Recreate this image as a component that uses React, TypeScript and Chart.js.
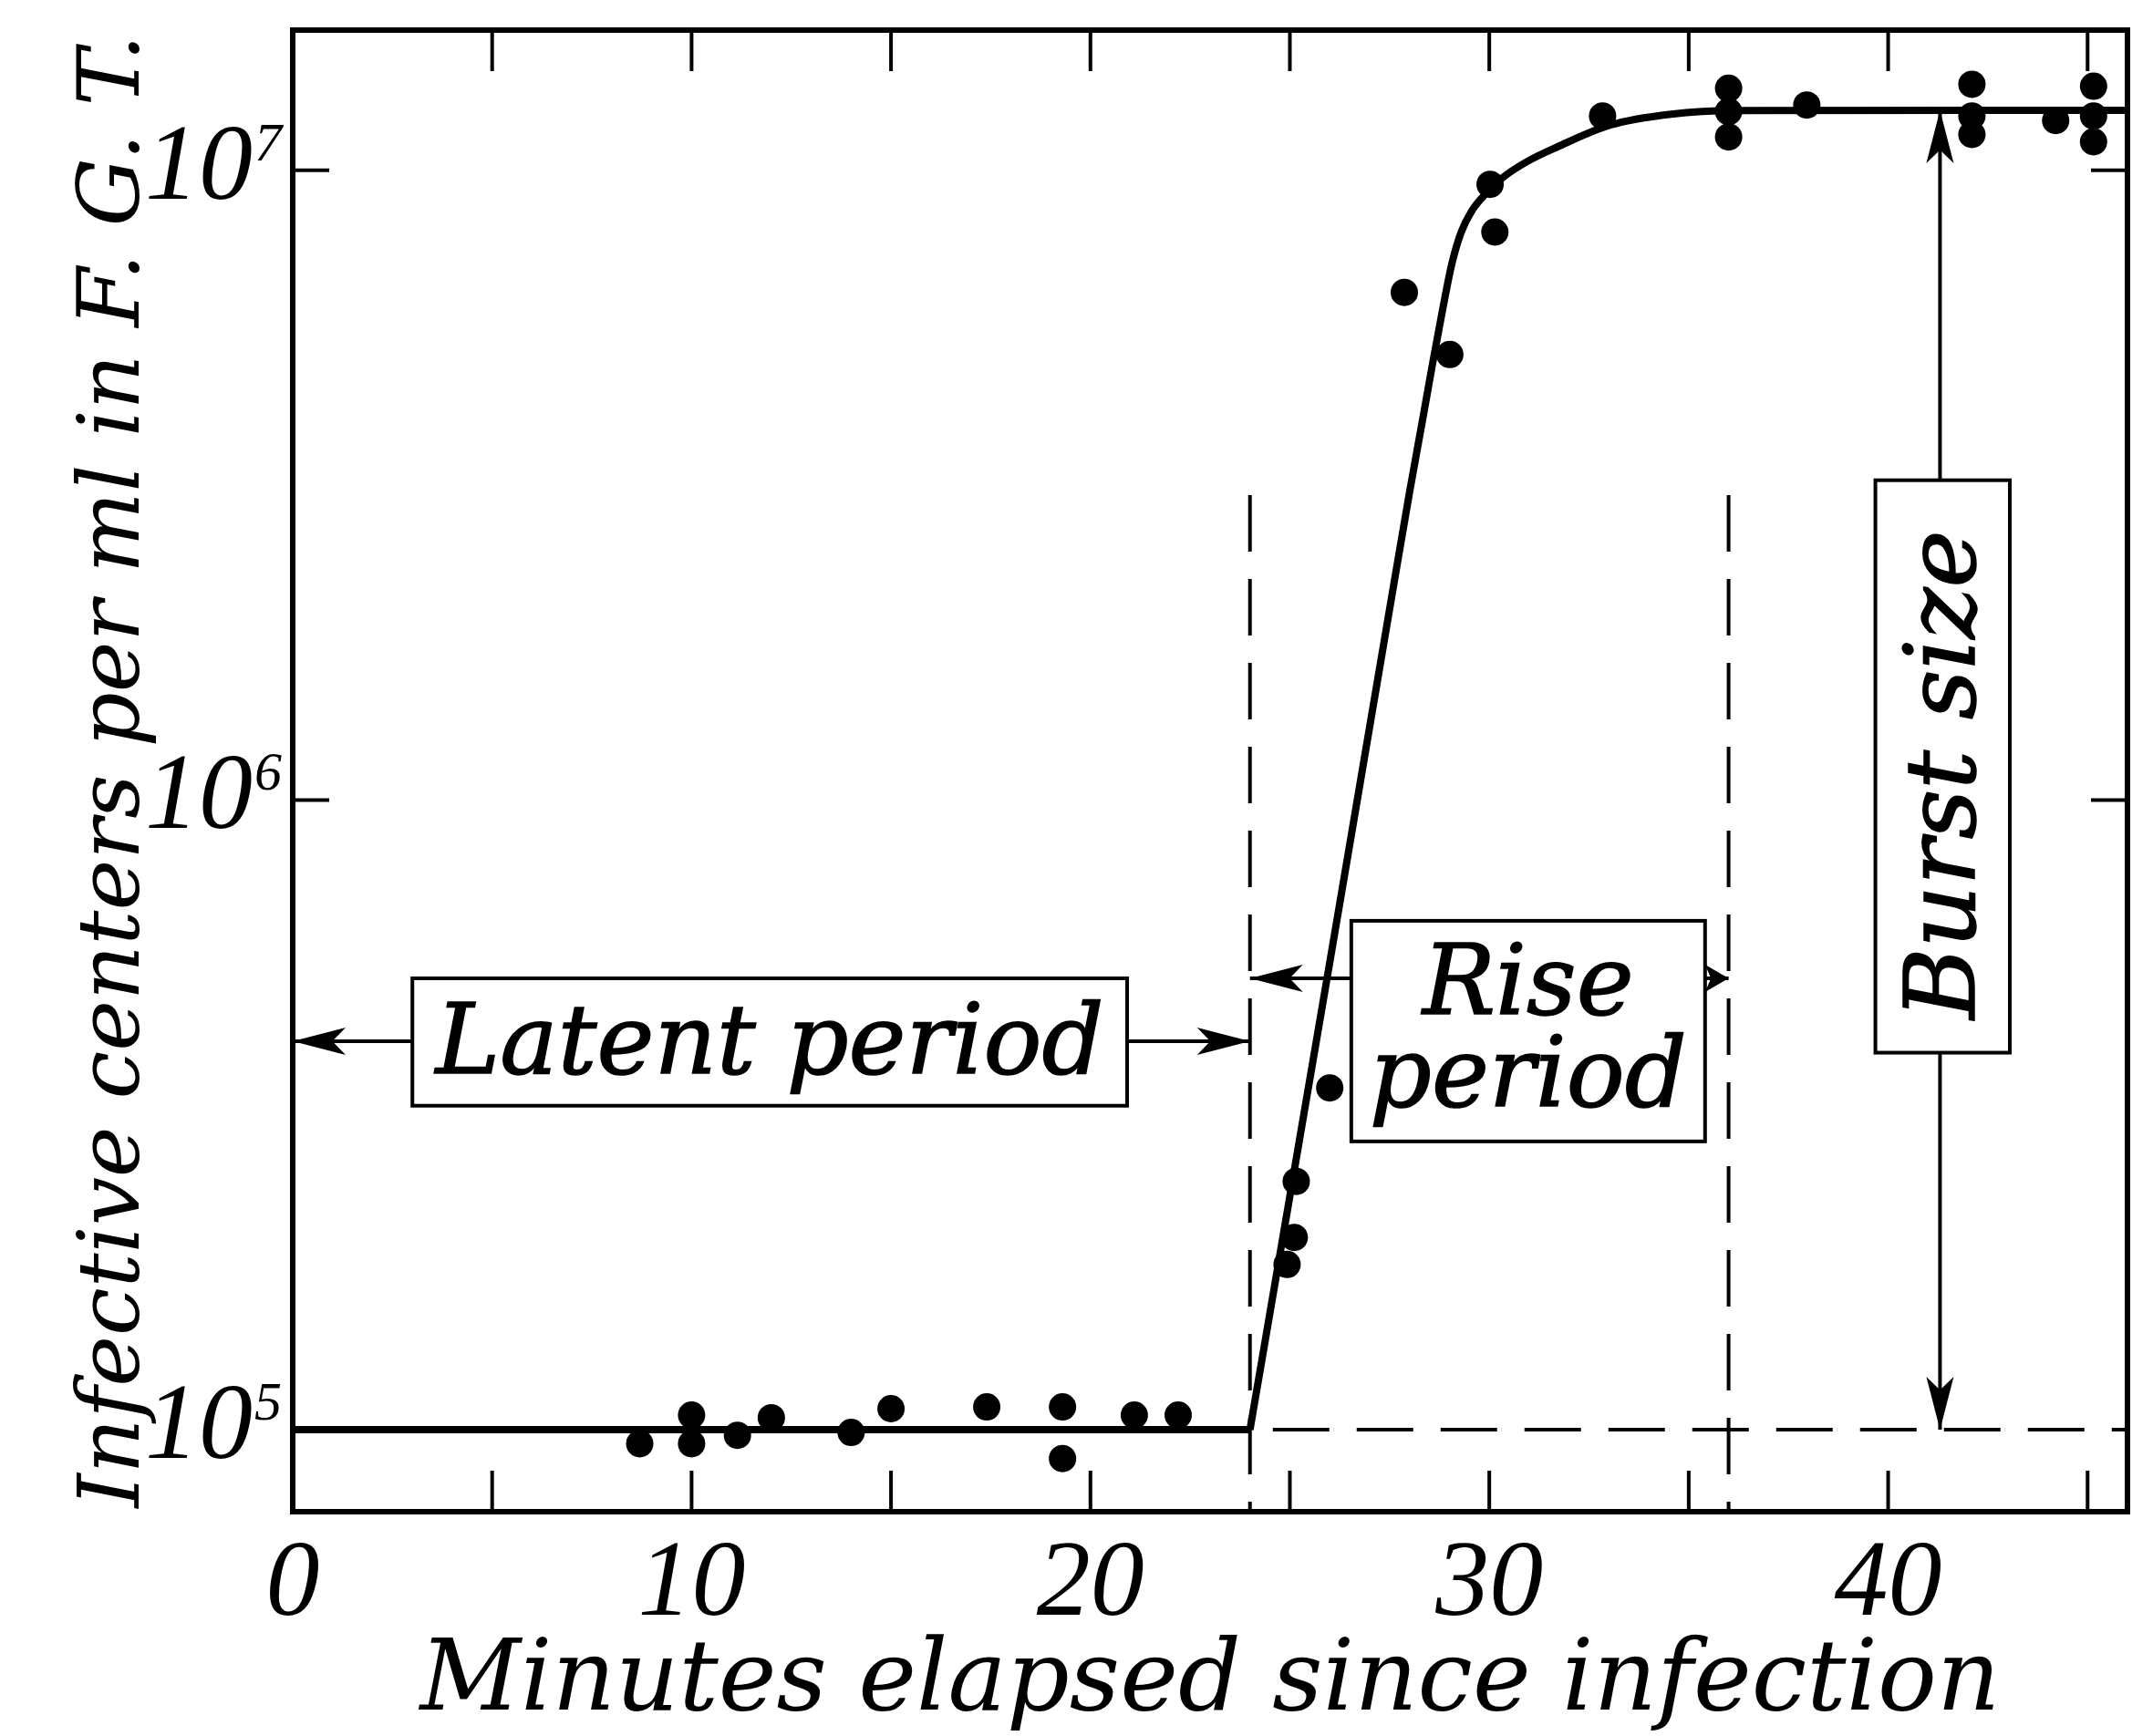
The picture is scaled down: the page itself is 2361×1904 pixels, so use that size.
import React, { useEffect, useRef } from "react";
import { Chart, registerables } from "chart.js";

Chart.register(...registerables);

const CANVAS_W = 2361;
const CANVAS_H = 1904;
const PLOT_LEFT = 321;
const PLOT_TOP = 33;
const PLOT_RIGHT = 2333;
const PLOT_BOTTOM = 1658;

const X_MIN = 0;
const X_MAX = 46;
const Y_MIN = 7.41e4;
const Y_MAX = 1.67e7;

// tick labels
const xLabelTicks = [0, 10, 20, 30, 40];
const xMarkTicks = [5, 10, 15, 20, 25, 30, 35, 40, 45];
const yTickValues = [1e5, 1e6, 1e7];
const yTickMantissa = "10";
const yTickExponents = ["5", "6", "7"];
const yRightTicks = [1e6, 1e7];

const X_TITLE = "Minutes elapsed since infection";
const Y_TITLE = "Infective centers per ml in F. G. T.";

// observed points
const latentMinutes = [8.7, 10.0, 10.0, 11.15, 12.0, 14.0, 15.0, 17.4, 19.3, 19.3, 21.1, 22.2];
const latentCounts = [9.5e4, 1.055e5, 9.5e4, 9.8e4, 1.045e5, 9.9e4, 1.08e5, 1.087e5, 1.087e5, 9.0e4, 1.055e5, 1.055e5];

const riseMinutes = [24.93, 25.11, 25.16, 26.0, 27.87, 29.01, 30.02, 30.14, 32.84];
const riseCounts = [1.83e5, 2.02e5, 2.48e5, 3.49e5, 6.4e6, 5.1e6, 9.5e6, 7.98e6, 1.22e7];

const plateauMinutes = [36.0, 36.0, 36.0, 37.96, 42.1, 42.1, 42.1, 44.2, 45.15, 45.15, 45.15];
const plateauCounts = [1.35e7, 1.24e7, 1.13e7, 1.27e7, 1.37e7, 1.22e7, 1.14e7, 1.2e7, 1.36e7, 1.22e7, 1.11e7];

// fitted curve
const flatMinutes = [0, 24];
const flatCounts = [1e5, 1e5];
const curveMinutes = [24, 26.0, 27.6, 28.0, 28.35, 28.58, 28.83, 29.06, 29.29, 29.56, 29.91, 30.32, 30.94, 31.7, 33.03, 34.56, 36.17, 46];
const curveCounts = [1e5, 5.52e5, 2.19e6, 3.08e6, 4.09e6, 4.94e6, 6.01e6, 7.1e6, 7.96e6, 8.62e6, 9.18e6, 9.72e6, 1.032e7, 1.089e7, 1.18e7, 1.228e7, 1.244e7, 1.245e7];

// reference lines
const LATENT_END = 24;
const RISE_END = 36;
const BURST_X = 41.3;
const BASE_COUNT = 1e5;
const PLATEAU_COUNT = 1.245e7;
const DASH_TOP = 3.05e6;

// annotation boxes (data coords)
const latentBox = { x0: 3.0, x1: 20.92, y0: 5.21e5, y1: 3.27e5 };
const latentArrowY = 4.14e5;
const riseBox = { x0: 26.54, x1: 35.41, y0: 6.43e5, y1: 2.87e5 };
const riseArrowY = 5.21e5;
const burstBox = { x0: 39.68, x1: 43.05, y0: 3.22e6, y1: 3.97e5 };

const TEXT_FONT = "'DejaVu Serif', serif";
const TICK_FONT = "'Liberation Serif', serif";
const Y_TICK_PAD = 44;

const pts = (xs: number[], ys: number[]) => xs.map((x, i) => ({ x, y: ys[i] }));

function fitSize(text: string, family: string, target: number) {
  const c = document.createElement("canvas").getContext("2d")!;
  c.font = `italic 100px ${family}`;
  return (100 * target) / c.measureText(text).width;
}

function arrowHead(ctx: CanvasRenderingContext2D, x0: number, y0: number, x1: number, y1: number) {
  const dx = x1 - x0, dy = y1 - y0;
  const d = Math.hypot(dx, dy);
  const ux = dx / d, uy = dy / d;
  const len = Math.min(58, d);
  const half = 15;
  const bx = x1 - ux * len, by = y1 - uy * len;
  const nx = -uy, ny = ux;
  ctx.beginPath();
  ctx.moveTo(x1, y1);
  ctx.lineTo(bx + nx * half, by + ny * half);
  ctx.lineTo(bx + ux * len * 0.25, by + uy * len * 0.25);
  ctx.lineTo(bx - nx * half, by - ny * half);
  ctx.closePath();
  ctx.fill();
}

function arrow(ctx: CanvasRenderingContext2D, x0: number, y0: number, x1: number, y1: number) {
  ctx.beginPath();
  ctx.moveTo(x0, y0);
  ctx.lineTo(x1, y1);
  ctx.stroke();
  arrowHead(ctx, x0, y0, x1, y1);
}

export default function App() {
  const ref = useRef<HTMLCanvasElement>(null);

  useEffect(() => {
    document.body.style.margin = "0";
    const canvas = ref.current!;

    const xTitleSize = fitSize(X_TITLE, TEXT_FONT, 1733);
    const yTitleSize = fitSize(Y_TITLE, TEXT_FONT, 1616);
    const noteSize = fitSize("Latent period", TEXT_FONT, 733);
    const tickSize = 118;

    const xTitlePadBottom = CANVAS_H - (1884 - 0.346 * xTitleSize) - xTitleSize / 2;
    const yTitlePadTop = 160 - 0.346 * yTitleSize - yTitleSize / 2;

    const annotations = {
      id: "annotations",
      afterDatasetsDraw(chart: any) {
        const { ctx } = chart;
        const x = chart.scales.x;
        const y = chart.scales.y;
        const px = (v: number) => x.getPixelForValue(v);
        const py = (v: number) => y.getPixelForValue(v);
        ctx.save();
        ctx.strokeStyle = "#000";
        ctx.fillStyle = "#000";
        ctx.lineWidth = 4;

        const la = py(latentArrowY);
        arrow(ctx, px(latentBox.x0), la, px(0), la);
        arrow(ctx, px(latentBox.x1), la, px(LATENT_END), la);
        const ra = py(riseArrowY);
        arrow(ctx, px(riseBox.x0), ra, px(LATENT_END), ra);
        arrow(ctx, px(riseBox.x1), ra, px(RISE_END), ra);
        const bx = px(BURST_X);
        arrow(ctx, bx, py(burstBox.y1), bx, py(BASE_COUNT));
        arrow(ctx, bx, py(burstBox.y0), bx, py(PLATEAU_COUNT));

        const drawBox = (b: any) => {
          const l = px(b.x0), r = px(b.x1), t = py(b.y0), btm = py(b.y1);
          ctx.fillStyle = "#fff";
          ctx.fillRect(l, t, r - l, btm - t);
          ctx.fillStyle = "#000";
          ctx.lineWidth = 4;
          ctx.strokeRect(l, t, r - l, btm - t);
          return { l, r, t, b: btm };
        };

        ctx.font = `italic ${noteSize}px ${TEXT_FONT}`;
        ctx.textAlign = "center";
        ctx.textBaseline = "alphabetic";

        const say = (t: string, X: number, Y: number) => {
          ctx.lineWidth = 1.5;
          ctx.fillText(t, X, Y);
          ctx.strokeText(t, X, Y);
        };

        const lb = drawBox(latentBox);
        say("Latent period", (lb.l + lb.r) / 2, lb.t + 0.743 * (lb.b - lb.t));

        const rb = drawBox(riseBox);
        say("Rise", (rb.l + rb.r) / 2, rb.t + 0.42 * (rb.b - rb.t));
        say("period", (rb.l + rb.r) / 2, rb.t + 0.84 * (rb.b - rb.t));

        const bb = drawBox(burstBox);
        ctx.save();
        ctx.translate(bb.l + 0.735 * (bb.r - bb.l), (bb.t + bb.b) / 2 + 9);
        ctx.rotate(-Math.PI / 2);
        say("Burst size", 0, 0);
        ctx.restore();

        ctx.restore();
      },
      afterDraw(chart: any) {
        const { ctx, chartArea } = chart;
        const x = chart.scales.x;
        const y = chart.scales.y;
        const { left, right, top, bottom } = chartArea;
        ctx.save();
        ctx.strokeStyle = "#000";
        ctx.fillStyle = "#000";
        ctx.lineWidth = 6;
        ctx.strokeRect(left, top, right - left, bottom - top);
        ctx.lineWidth = 4;
        ctx.beginPath();
        xMarkTicks.forEach((m) => {
          const X = x.getPixelForValue(m);
          ctx.moveTo(X, bottom);
          ctx.lineTo(X, bottom - 45);
          ctx.moveTo(X, top);
          ctx.lineTo(X, top + 45);
        });
        yTickValues.forEach((v) => {
          const Y = y.getPixelForValue(v);
          ctx.moveTo(left, Y);
          ctx.lineTo(left + 40, Y);
        });
        yRightTicks.forEach((v) => {
          const Y = y.getPixelForValue(v);
          ctx.moveTo(right, Y);
          ctx.lineTo(right - 40, Y);
        });
        ctx.stroke();

        ctx.font = `italic 60px ${TICK_FONT}`;
        ctx.textAlign = "left";
        ctx.textBaseline = "alphabetic";
        yTickValues.forEach((v, i) => {
          const Y = y.getPixelForValue(v);
          ctx.fillText(yTickExponents[i], y.right - Y_TICK_PAD + 2, Y - 11);
        });
        ctx.restore();
      },
    };

    const lineBase = { showLine: true, pointRadius: 0, borderColor: "#000", backgroundColor: "#000" };
    const dashed = { ...lineBase, borderWidth: 4, borderDash: [62, 30] };
    const dots = { showLine: false, pointRadius: 15, pointHoverRadius: 15, backgroundColor: "#000", borderWidth: 0 };

    const chart = new Chart(canvas, {
      type: "scatter",
      data: {
        datasets: [
          { label: "latent line", data: pts(flatMinutes, flatCounts), ...lineBase, borderWidth: 8 },
          {
            label: "rise curve",
            data: pts(curveMinutes, curveCounts),
            ...lineBase,
            borderWidth: 8,
            cubicInterpolationMode: "monotone",
            borderJoinStyle: "round",
          },
          { label: "base", data: pts([LATENT_END, X_MAX], [BASE_COUNT, BASE_COUNT]), ...dashed, borderDashOffset: 67 },
          { label: "latent end", data: pts([LATENT_END, LATENT_END], [DASH_TOP, Y_MIN]), ...dashed },
          { label: "rise end", data: pts([RISE_END, RISE_END], [DASH_TOP, Y_MIN]), ...dashed },
          { label: "latent points", data: pts(latentMinutes, latentCounts), ...dots },
          { label: "rise points", data: pts(riseMinutes, riseCounts), ...dots },
          { label: "plateau points", data: pts(plateauMinutes, plateauCounts), ...dots },
        ] as any,
      },
      options: {
        responsive: false,
        animation: false,
        devicePixelRatio: 1,
        layout: { padding: { top: PLOT_TOP, right: CANVAS_W - PLOT_RIGHT, left: 0, bottom: 0 } },
        plugins: { legend: { display: false }, tooltip: { enabled: false } },
        scales: {
          x: {
            type: "linear",
            position: "bottom",
            min: X_MIN,
            max: X_MAX,
            grid: { display: false, drawTicks: false },
            border: { display: false },
            afterBuildTicks: (s: any) => {
              s.ticks = xLabelTicks.map((v) => ({ value: v }));
            },
            ticks: {
              autoSkip: false,
              maxRotation: 0,
              minRotation: 0,
              padding: 1740 - PLOT_BOTTOM - tickSize / 2,
              color: "#000",
              font: { family: TICK_FONT, size: tickSize, style: "italic", lineHeight: 1 },
              callback: (v: any) => String(v),
            },
            title: {
              display: true,
              text: X_TITLE,
              color: "#000",
              font: { family: TEXT_FONT, size: xTitleSize, style: "italic", lineHeight: 1 },
              padding: { top: 0, bottom: xTitlePadBottom },
            },
            afterFit: (s: any) => {
              s.height = CANVAS_H - PLOT_BOTTOM;
              s.paddingLeft = 0;
              s.paddingRight = 0;
              s.paddingTop = 0;
              s.paddingBottom = 0;
            },
          },
          y: {
            type: "logarithmic",
            position: "left",
            min: Y_MIN,
            max: Y_MAX,
            grid: { display: false, drawTicks: false },
            border: { display: false },
            afterBuildTicks: (s: any) => {
              s.ticks = yTickValues.map((v) => ({ value: v }));
            },
            ticks: {
              autoSkip: false,
              padding: Y_TICK_PAD,
              color: "#000",
              font: { family: TICK_FONT, size: tickSize, style: "italic", lineHeight: 1 },
              callback: () => yTickMantissa,
            },
            title: {
              display: true,
              text: Y_TITLE,
              color: "#000",
              font: { family: TEXT_FONT, size: yTitleSize, style: "italic", lineHeight: 1 },
              padding: { top: yTitlePadTop, bottom: 0 },
            },
            afterFit: (s: any) => {
              s.width = PLOT_LEFT;
              s.paddingLeft = 0;
              s.paddingRight = 0;
              s.paddingTop = 0;
              s.paddingBottom = 0;
            },
          },
        },
      } as any,
      plugins: [annotations],
    });

    return () => chart.destroy();
  }, []);

  return (
    <div style={{ width: CANVAS_W, height: CANVAS_H, background: "#fff" }}>
      <canvas ref={ref} width={CANVAS_W} height={CANVAS_H} style={{ display: "block" }} />
    </div>
  );
}
